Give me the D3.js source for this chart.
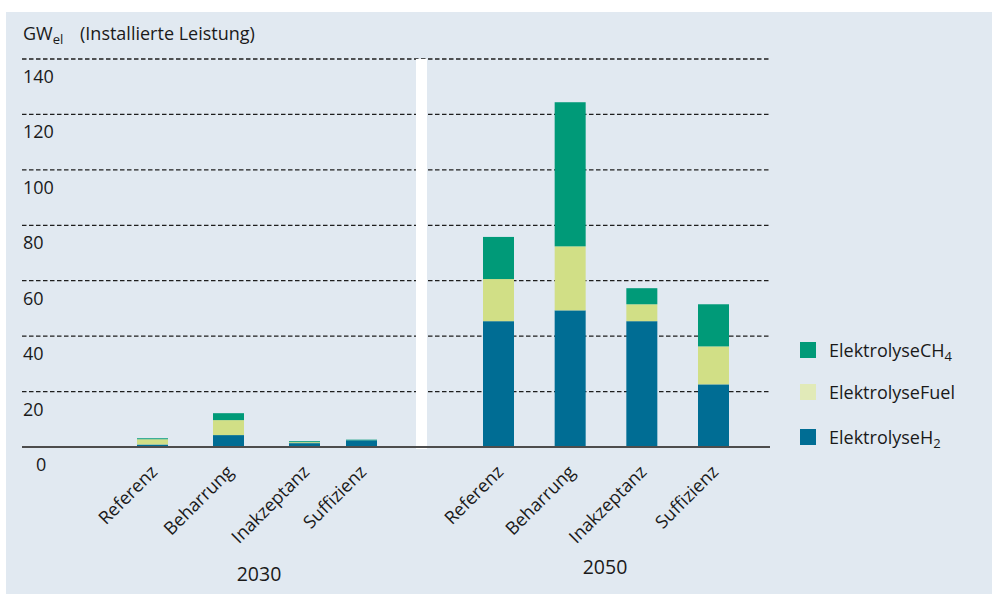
<!DOCTYPE html>
<html>
<head>
<meta charset="utf-8">
<script src="https://cdn.jsdelivr.net/npm/d3@7"></script>
<style>
  html, body { margin: 0; padding: 0; background: #ffffff; }
  svg { display: block; }
  text { font-family: "Open Sans", "Noto Sans", sans-serif; fill: #1a1a1a; }
</style>
</head>
<body>
<svg id="chart" width="992" height="594"></svg>
<script>
// ---------- data ----------
const categories = ["Referenz", "Beharrung", "Inakzeptanz", "Suffizienz"];
const years = ["2030", "2050"];
const seriesNames = ["ElektrolyseH2", "ElektrolyseFuel", "ElektrolyseCH4"];
const h2_2030   = [0.9, 4.3, 1.4, 2.4];
const fuel_2030 = [1.9, 5.4, 0.35, 0.0];
const ch4_2030  = [0.35, 2.5, 0.35, 0.25];
const h2_2050   = [45.4, 49.3, 45.4, 22.6];
const fuel_2050 = [15.2, 23.1, 6.1, 13.7];
const ch4_2050  = [15.2, 52.0, 5.8, 15.2];
const yTicks = [0, 20, 40, 60, 80, 100, 120, 140];

// ---------- layout ----------
const svg = d3.select("#chart");
const colors = { ElektrolyseH2: "#006d94", ElektrolyseFuel: "#d1df86", ElektrolyseCH4: "#009a78" };
const legendColors = { ElektrolyseH2: "#006d94", ElektrolyseFuel: "#e1eab8", ElektrolyseCH4: "#009a78" };

svg.append("rect").attr("x", 6).attr("y", 12).attr("width", 986).attr("height", 582).attr("fill", "#e1e9f1");

const y = d3.scaleLinear().domain([0, 140]).range([447, 59]);
const plotLeft = 22, plotRight = 770;

// x scales per year
const x2030 = d3.scaleOrdinal().domain(categories).range([152.5, 228.5, 304.5, 361.5]);
const x2050 = d3.scalePoint().domain(categories).range([498.5, 713.5]);
const xScales = { "2030": x2030, "2050": x2050 };
const barW = 31;

// gridlines
svg.append("g").selectAll("line").data(yTicks.filter(d => d > 0)).join("line")
  .attr("x1", plotLeft).attr("x2", plotRight)
  .attr("y1", d => y(d)).attr("y2", d => y(d))
  .attr("stroke", "#1e1e1e").attr("stroke-width", 1.3).attr("stroke-dasharray", "4.5,2.5");

// tick labels (below the gridlines)
svg.append("g").selectAll("text").data(yTicks).join("text")
  .attr("x", d => d === 0 ? 36 : 23)
  .attr("y", d => y(d) + 24)
  .attr("font-size", 18)
  .text(d => d);

// white separator
svg.append("rect").attr("x", 416).attr("y", y(140)).attr("width", 11).attr("height", y(0) - y(140) + 2).attr("fill", "#ffffff");

// stacked bars
const rawData = {
  "2030": { ElektrolyseH2: h2_2030, ElektrolyseFuel: fuel_2030, ElektrolyseCH4: ch4_2030 },
  "2050": { ElektrolyseH2: h2_2050, ElektrolyseFuel: fuel_2050, ElektrolyseCH4: ch4_2050 }
};
years.forEach(yr => {
  const rows = categories.map((c, i) => {
    const r = { cat: c };
    seriesNames.forEach(s => r[s] = rawData[yr][s][i]);
    return r;
  });
  const stack = d3.stack().keys(seriesNames)(rows);
  const xs = xScales[yr];
  const g = svg.append("g");
  stack.forEach(layer => {
    g.selectAll(null).data(layer).join("rect")
      .attr("x", d => xs(d.data.cat) - barW / 2)
      .attr("width", barW)
      .attr("y", d => y(d[1]))
      .attr("height", d => Math.max(0, y(d[0]) - y(d[1])))
      .attr("fill", colors[layer.key]);
  });
  // category labels
  svg.append("g").selectAll("text").data(categories).join("text")
    .attr("transform", d => `translate(${xs(d) + 6},${473}) rotate(-45)`)
    .attr("text-anchor", "end")
    .attr("font-size", 18)
    .text(d => d);
});

// axis baseline
svg.append("line").attr("x1", plotLeft).attr("x2", plotRight).attr("y1", y(0)).attr("y2", y(0))
  .attr("stroke", "#4d4d4d").attr("stroke-width", 2);

// year labels
svg.append("text").attr("x", 259).attr("y", 581).attr("text-anchor", "middle").attr("font-size", 19.5).text(years[0]);
svg.append("text").attr("x", 605).attr("y", 574).attr("text-anchor", "middle").attr("font-size", 19.5).text(years[1]);

// axis title
const title = svg.append("text").attr("y", 40).attr("font-size", 18);
title.append("tspan").attr("x", 23).text("GW");
title.append("tspan").attr("dy", 3.5).attr("font-size", 13).text("el");
title.append("tspan").attr("x", 80).attr("dy", -3.5).text("(Installierte Leistung)");

// legend
const legendItems = [
  { key: "ElektrolyseCH4", base: "ElektrolyseCH", sub: "4", y: 342 },
  { key: "ElektrolyseFuel", base: "ElektrolyseFuel", sub: "", y: 384 },
  { key: "ElektrolyseH2", base: "ElektrolyseH", sub: "2", y: 429 }
];
const lg = svg.append("g");
legendItems.forEach(it => {
  lg.append("rect").attr("x", 800).attr("y", it.y).attr("width", 16).attr("height", 16).attr("fill", legendColors[it.key]);
  const t = lg.append("text").attr("x", 829).attr("y", it.y + 15).attr("font-size", 18);
  t.append("tspan").text(it.base);
  if (it.sub) t.append("tspan").attr("dy", 3.5).attr("font-size", 13).text(it.sub);
});
</script>
</body>
</html>
